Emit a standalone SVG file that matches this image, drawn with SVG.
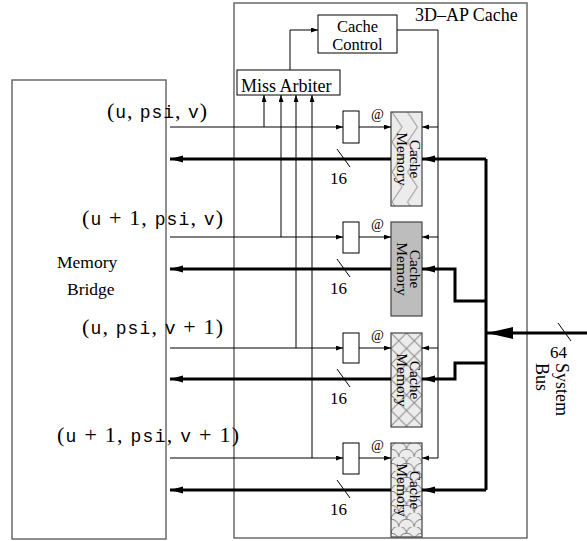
<svg xmlns="http://www.w3.org/2000/svg" width="587" height="541" viewBox="0 0 587 541">
<style>
.box{fill:none;stroke:#606060;stroke-width:1.4}
.blk{fill:#fff;stroke:#000;stroke-width:1}
.cm{stroke:#444;stroke-width:1.2}
.thin{fill:none;stroke:#000;stroke-width:1}
.bus{fill:none;stroke:#000;stroke-width:3}
.t{font-family:"Liberation Serif","Times New Roman",serif;fill:#000}
.math{font-family:"Liberation Serif","Times New Roman",serif;font-size:22px;fill:#000}
.tt{font-family:"Liberation Mono","Courier New",monospace;font-size:18px}
</style>
<defs>
<marker id="a" markerUnits="userSpaceOnUse" markerWidth="8" markerHeight="6" refX="7" refY="2.5" orient="auto"><path d="M0,0 L7,2.5 L0,5 z" fill="#000"/></marker>
<marker id="ab" markerUnits="userSpaceOnUse" markerWidth="14" markerHeight="8" refX="13" refY="3.5" orient="auto"><path d="M0,0 L13,3.5 L0,7 z" fill="#000"/></marker>
<marker id="as" markerUnits="userSpaceOnUse" markerWidth="27" markerHeight="13" refX="26" refY="6" orient="auto"><path d="M0,0 L26,6 L0,12 z" fill="#000"/></marker>
<pattern id="pzig" patternUnits="userSpaceOnUse" x="391" y="112" width="15.5" height="30">
<rect width="15.5" height="30" fill="#ececec"/>
<path d="M1,0 L11,15 L1,30" fill="none" stroke="#999" stroke-width="1"/>
</pattern>
<pattern id="pcross" patternUnits="userSpaceOnUse" x="391" y="333" width="15.5" height="15.5">
<rect width="15.5" height="15.5" fill="#ececec"/>
<path d="M0,0 L15.5,15.5 M15.5,0 L0,15.5" fill="none" stroke="#888" stroke-width="1"/>
</pattern>
<pattern id="pscale" patternUnits="userSpaceOnUse" x="391" y="443" width="15.5" height="14">
<rect width="15.5" height="14" fill="#ececec"/>
<path d="M0,7 A7.75,7.75 0 0 1 15.5,7 M-7.75,14 A7.75,7.75 0 0 1 7.75,14 M7.75,14 A7.75,7.75 0 0 1 23.25,14" fill="none" stroke="#888" stroke-width="1"/>
</pattern>
</defs>

<g id="memory-bridge">
<rect class="box" x="12" y="80" width="154" height="459"/>
<text class="t" font-size="17.5" x="57" y="268">Memory</text>
<text class="t" font-size="17.5" x="67" y="295">Bridge</text>
</g>

<g id="cache-3dap">
<rect class="box" x="234" y="3" width="293" height="535"/>
<text class="t" font-size="18" x="415" y="21">3D–AP Cache</text>
</g>

<g id="cache-control">
<rect class="blk" x="318" y="15" width="79" height="38"/>
<text class="t" font-size="16.5" x="357.5" y="31.5" text-anchor="middle">Cache</text>
<text class="t" font-size="16.5" x="357.5" y="50" text-anchor="middle">Control</text>
</g>

<g id="miss-arbiter">
<rect class="blk" x="237" y="70" width="103" height="25"/>
<text class="t" font-size="18" x="241" y="92">Miss Arbiter</text>
</g>

<g id="reg1"><rect class="blk" x="343" y="111" width="16" height="32"/></g>
<g id="reg2"><rect class="blk" x="343" y="222" width="16" height="31"/></g>
<g id="reg3"><rect class="blk" x="343" y="333" width="16" height="30"/></g>
<g id="reg4"><rect class="blk" x="343" y="443" width="16" height="31"/></g>

<g id="cache-memory-1">
<rect class="cm" x="391" y="112" width="31" height="94" fill="url(#pzig)"/>
<g transform="translate(406.5,159) rotate(90)"><text class="t" font-size="15.5" x="0" y="-3.5" text-anchor="middle">Cache</text><text class="t" font-size="15.5" x="0" y="9.5" text-anchor="middle">Memory</text></g>
</g>
<g id="cache-memory-2">
<rect class="cm" x="391" y="222" width="31" height="94" fill="#bdbdbd"/>
<g transform="translate(406.5,269) rotate(90)"><text class="t" font-size="15.5" x="0" y="-3.5" text-anchor="middle">Cache</text><text class="t" font-size="15.5" x="0" y="9.5" text-anchor="middle">Memory</text></g>
</g>
<g id="cache-memory-3">
<rect class="cm" x="391" y="333" width="31" height="94" fill="url(#pcross)"/>
<g transform="translate(406.5,380) rotate(90)"><text class="t" font-size="15.5" x="0" y="-3.5" text-anchor="middle">Cache</text><text class="t" font-size="15.5" x="0" y="9.5" text-anchor="middle">Memory</text></g>
</g>
<g id="cache-memory-4">
<rect class="cm" x="391" y="443" width="31" height="94" fill="url(#pscale)"/>
<g transform="translate(406.5,490) rotate(90)"><text class="t" font-size="15.5" x="0" y="-3.5" text-anchor="middle">Cache</text><text class="t" font-size="15.5" x="0" y="9.5" text-anchor="middle">Memory</text></g>
</g>

<g id="connectors">
<path class="thin" d="M290,70 V30 H318" marker-end="url(#a)"/>
<path class="thin" d="M397,30 H438 V458 H422" marker-end="url(#a)"/>
<path class="thin" d="M438,127 H422" marker-end="url(#a)"/>
<path class="thin" d="M438,237 H422" marker-end="url(#a)"/>
<path class="thin" d="M438,348 H422" marker-end="url(#a)"/>
<path class="thin" d="M170,127 H343" marker-end="url(#a)"/>
<path class="thin" d="M170,237 H343" marker-end="url(#a)"/>
<path class="thin" d="M170,348 H343" marker-end="url(#a)"/>
<path class="thin" d="M170,458 H343" marker-end="url(#a)"/>
<path class="thin" d="M359,127 H391" marker-end="url(#a)"/>
<path class="thin" d="M359,237 H391" marker-end="url(#a)"/>
<path class="thin" d="M359,348 H391" marker-end="url(#a)"/>
<path class="thin" d="M359,458 H391" marker-end="url(#a)"/>
<path class="thin" d="M264,127 V95" marker-end="url(#a)"/>
<path class="thin" d="M281,237 V95" marker-end="url(#a)"/>
<path class="thin" d="M296,348 V95" marker-end="url(#a)"/>
<path class="thin" d="M312,458 V95" marker-end="url(#a)"/>
<path class="bus" d="M391,159 H170" marker-end="url(#ab)"/>
<path class="bus" d="M391,269 H170" marker-end="url(#ab)"/>
<path class="bus" d="M391,379 H170" marker-end="url(#ab)"/>
<path class="bus" d="M391,490 H170" marker-end="url(#ab)"/>
<path class="bus" stroke-width="2.5" d="M486,159 V490"/>
<path class="bus" stroke-width="2.5" d="M486,159 H422" marker-end="url(#ab)"/>
<path class="bus" stroke-width="2.5" d="M486,301 H455 V269 H422" marker-end="url(#ab)"/>
<path class="bus" stroke-width="2.5" d="M486,363 H455 V379 H422" marker-end="url(#ab)"/>
<path class="bus" stroke-width="2.5" d="M486,490 H422" marker-end="url(#ab)"/>
<path class="bus" stroke-width="4" d="M587,333 H487" marker-end="url(#as)"/>
<path class="thin" d="M558,323 L571,341"/>
<path class="thin" d="M337,149 L350,167"/>
<path class="thin" d="M337,259 L350,277"/>
<path class="thin" d="M337,369 L350,387"/>
<path class="thin" d="M337,480 L350,498"/>
</g>

<g id="labels">
<text class="t" font-size="14" x="371" y="119">@</text>
<text class="t" font-size="14" x="371" y="229">@</text>
<text class="t" font-size="14" x="371" y="340">@</text>
<text class="t" font-size="14" x="371" y="450">@</text>
<text class="t" font-size="17" x="330" y="184">16</text>
<text class="t" font-size="17" x="330" y="294">16</text>
<text class="t" font-size="17" x="330" y="404">16</text>
<text class="t" font-size="17" x="330" y="515">16</text>
<text class="t" font-size="17" x="550" y="358">64</text>
<g transform="rotate(90)"><text class="t" font-size="18" x="363" y="-556">System</text><text class="t" font-size="18" x="363" y="-536">Bus</text></g>
<text class="math" x="107" y="118" textLength="100" lengthAdjust="spacing">(<tspan class="tt">u</tspan>, <tspan class="tt">psi</tspan>, <tspan class="tt">v</tspan>)</text>
<text class="math" x="82" y="225" textLength="141" lengthAdjust="spacing">(<tspan class="tt">u</tspan> + 1, <tspan class="tt">psi</tspan>, <tspan class="tt">v</tspan>)</text>
<text class="math" x="82" y="334" textLength="141" lengthAdjust="spacing">(<tspan class="tt">u</tspan>, <tspan class="tt">psi</tspan>, <tspan class="tt">v</tspan> + 1)</text>
<text class="math" x="57" y="442" textLength="182" lengthAdjust="spacing">(<tspan class="tt">u</tspan> + 1, <tspan class="tt">psi</tspan>, <tspan class="tt">v</tspan> + 1)</text>
</g>
</svg>
